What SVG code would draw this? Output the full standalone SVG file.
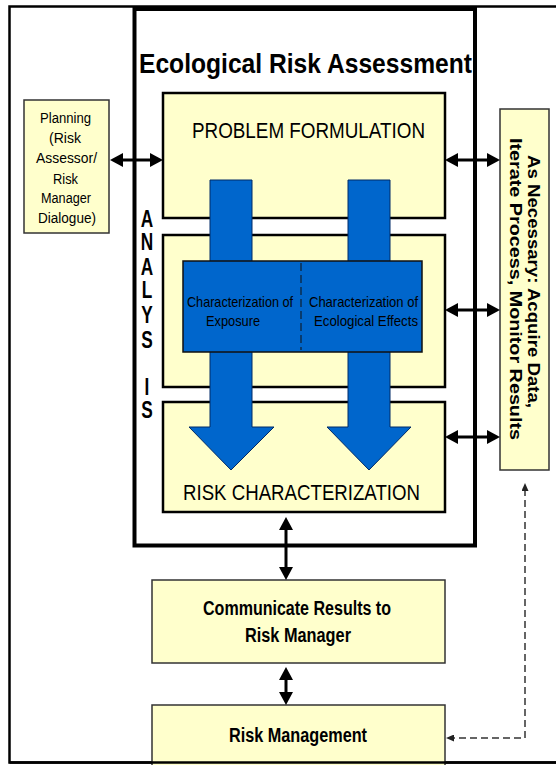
<svg xmlns="http://www.w3.org/2000/svg" width="556" height="765" viewBox="0 0 556 765">
<defs>
<style>
text{font-family:"Liberation Sans",Arial,sans-serif;fill:#000}
.ybox{fill:#FFFFCC;stroke:#000;stroke-width:2.5}
.ybox2{fill:#FFFFCC;stroke:#333;stroke-width:1.5}
.blue{fill:#0066CC;stroke:#002a66;stroke-width:1}
.dbl{stroke:#000;stroke-width:3;fill:none;marker-start:url(#ah);marker-end:url(#ah)}
.dash{stroke:#333;stroke-width:1.5;fill:none;stroke-dasharray:7 4;marker-start:url(#sh);marker-end:url(#sh)}
.big{font-size:22px}
.mid{font-size:20px;font-weight:bold}
.sm{font-size:15.5px}
.bt{font-size:15px}
.rt{font-size:16px;font-weight:bold}
.an{font-size:23px;font-weight:bold;text-anchor:middle}
</style>
<marker id="ah" viewBox="0 0 13 14" refX="7" refY="7" markerWidth="13" markerHeight="14" markerUnits="userSpaceOnUse" orient="auto-start-reverse">
<path d="M0,0 L13,7 L0,14 z" fill="#000"/>
</marker>
<marker id="sh" viewBox="0 0 8 7" refX="2" refY="3.5" markerWidth="8" markerHeight="7" markerUnits="userSpaceOnUse" orient="auto-start-reverse">
<path d="M0,0 L8,3.5 L0,7 z" fill="#222"/>
</marker>
</defs>
<rect x="0" y="0" width="556" height="765" fill="#fff"/>
<path d="M560,6.5 H9.5 V762.5 H560" fill="none" stroke="#000" stroke-width="2.5"/>

<g id="era">
<rect x="134.5" y="9" width="340.5" height="536.5" fill="#fff" stroke="#000" stroke-width="4"/>
<text x="139" y="73" font-size="28" font-weight="bold" textLength="333" lengthAdjust="spacingAndGlyphs">Ecological Risk Assessment</text>
</g>

<g id="analysis-label" transform="translate(147,0) scale(0.75,1)">
<text class="an" x="0" y="227">A</text>
<text class="an" x="0" y="250">N</text>
<text class="an" x="0" y="275">A</text>
<text class="an" x="0" y="298">L</text>
<text class="an" x="0" y="323">Y</text>
<text class="an" x="0" y="348">S</text>
<text class="an" x="0" y="395">I</text>
<text class="an" x="0" y="418">S</text>
</g>

<g id="problem-formulation">
<rect class="ybox" x="163" y="93" width="282" height="125"/>
<text class="big" x="192" y="138" textLength="233" lengthAdjust="spacingAndGlyphs">PROBLEM FORMULATION</text>
</g>

<g id="analysis">
<rect class="ybox" x="163" y="235" width="282" height="152"/>
</g>

<g id="risk-characterization">
<rect class="ybox" x="163" y="402" width="282" height="110"/>
<text class="big" x="183" y="500" textLength="237" lengthAdjust="spacingAndGlyphs">RISK CHARACTERIZATION</text>
</g>

<g id="flow-arrows">
<path class="blue" d="M210,180 H252 V427 H274 L231,470 L189,427 H210 Z"/>
<path class="blue" d="M348,180 H390 V427 H411 L369,470 L327,427 H348 Z"/>
</g>

<g id="characterization">
<rect x="183" y="261" width="239" height="91" fill="#0066CC" stroke="#111" stroke-width="1.5"/>
<line x1="301" y1="263" x2="301" y2="350" stroke="#111" stroke-width="1" stroke-dasharray="8 4"/>
<text class="bt" x="187" y="307" textLength="106" lengthAdjust="spacingAndGlyphs">Characterization of</text>
<text class="bt" x="206" y="326" textLength="54" lengthAdjust="spacingAndGlyphs">Exposure</text>
<text class="bt" x="309" y="307" textLength="109" lengthAdjust="spacingAndGlyphs">Characterization of</text>
<text class="bt" x="314" y="326" textLength="104" lengthAdjust="spacingAndGlyphs">Ecological Effects</text>
</g>

<g id="planning">
<rect class="ybox2" x="24" y="100" width="85" height="133"/>
<text class="sm" x="40" y="123" textLength="51" lengthAdjust="spacingAndGlyphs">Planning</text>
<text class="sm" x="49" y="143" textLength="32" lengthAdjust="spacingAndGlyphs">(Risk</text>
<text class="sm" x="36" y="163" textLength="61" lengthAdjust="spacingAndGlyphs">Assessor/</text>
<text class="sm" x="53" y="184" textLength="25" lengthAdjust="spacingAndGlyphs">Risk</text>
<text class="sm" x="41" y="203" textLength="50" lengthAdjust="spacingAndGlyphs">Manager</text>
<text class="sm" x="38" y="223" textLength="58" lengthAdjust="spacingAndGlyphs">Dialogue)</text>
</g>

<g id="as-necessary">
<rect class="ybox2" x="500" y="109" width="49" height="361"/>
<text class="rt" x="528" y="155" transform="rotate(90 528 155)" textLength="253" lengthAdjust="spacingAndGlyphs">As Necessary: Acquire Data,</text>
<text class="rt" x="510" y="138" transform="rotate(90 510 138)" textLength="302" lengthAdjust="spacingAndGlyphs">Iterate Process, Monitor Results</text>
</g>

<g id="communicate">
<rect class="ybox2" x="152" y="580" width="293" height="83"/>
<text class="mid" x="203" y="615" textLength="188" lengthAdjust="spacingAndGlyphs">Communicate Results to</text>
<text class="mid" x="245" y="642" textLength="106" lengthAdjust="spacingAndGlyphs">Risk Manager</text>
</g>

<g id="risk-management">
<rect class="ybox2" x="152" y="705" width="293" height="70"/>
<text class="mid" x="229" y="742" textLength="138" lengthAdjust="spacingAndGlyphs">Risk Management</text>
</g>

<path d="M9.5,762.5 H556" fill="none" stroke="#000" stroke-width="2.5"/>

<g id="connectors">
<line class="dbl" x1="116" y1="160" x2="157" y2="160"/>
<line class="dbl" x1="451" y1="160" x2="494" y2="160"/>
<line class="dbl" x1="451" y1="310" x2="494" y2="310"/>
<line class="dbl" x1="451" y1="437" x2="494" y2="437"/>
<line class="dbl" x1="286" y1="523" x2="286" y2="574"/>
<line class="dbl" x1="286" y1="673" x2="286" y2="699"/>
<path class="dash" d="M525,489 V738 H452"/>
</g>
</svg>
